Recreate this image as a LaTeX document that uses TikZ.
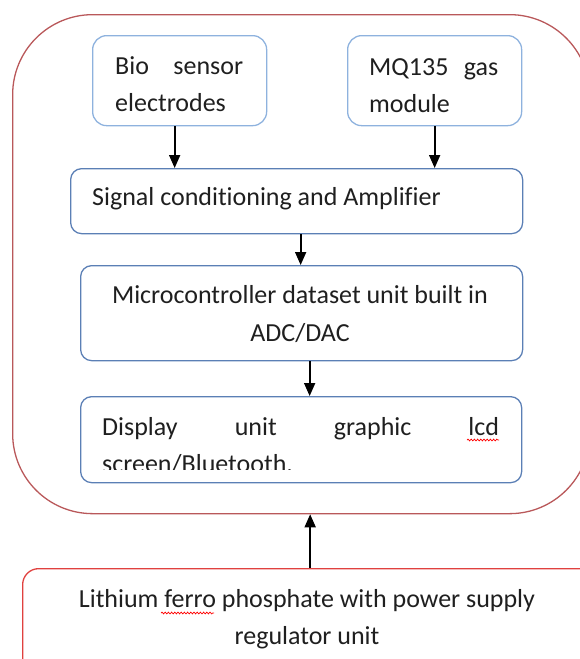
\documentclass[tikz,border=0pt]{standalone}
\usepackage{fontspec}
\setmainfont{Carlito}[Ligatures={NoCommon}]
\usetikzlibrary{arrows.meta,decorations.pathmorphing}
\definecolor{outerred}{HTML}{B9585A}
\definecolor{powred}{HTML}{E0413F}
\definecolor{lightblue}{HTML}{8EB2DE}
\definecolor{midblue}{HTML}{5B7FB5}
\begin{document}
\begin{tikzpicture}[x=1pt,y=-1pt,
  font=\fontsize{26}{37}\selectfont,
  topbox/.style={draw=lightblue, line width=1.3pt, rounded corners=14pt, minimum width=174pt, minimum height=90pt, anchor=north west, inner sep=0pt},
  box/.style={draw=midblue, line width=1.3pt, rounded corners=11pt, anchor=north west, inner sep=0pt},
  arr/.style={-{Triangle[length=13pt,width=11pt]}, line width=1.7pt, black},
  lbl/.style={inner sep=0pt, anchor=base west, text=black!88},
  clbl/.style={inner sep=0pt, anchor=base, text=black!88},
  squig/.style={draw=red, line width=0.7pt, decorate, decoration={snake, amplitude=0.9pt, segment length=3.2pt}}]
\useasboundingbox (0,0) rectangle (580,659);
\begin{scope}
\clip (0,0) rectangle (580,659);
% outer housing
\node[draw=outerred, line width=1.3pt, rounded corners=80pt, minimum width=577pt, minimum height=499pt, anchor=north west, inner sep=0pt] (outer) at (12,14) {};
% power box
\node[draw=powred, line width=1.3pt, rounded corners=16pt, minimum width=573pt, minimum height=140pt, anchor=north west, inner sep=0pt] (power) at (22,568) {};
% sensor boxes
\node[topbox] (bio) at (92,35) {};
\node[topbox] (mq) at (347,35) {};
% processing boxes
\node[box, minimum width=452pt, minimum height=65pt] (sig) at (70,168) {};
\node[box, minimum width=442pt, minimum height=95pt] (mic) at (80,265) {};
\node[box, minimum width=441pt, minimum height=86pt] (disp) at (80,396) {};
% texts
\node[lbl] (biot1) at (115,74) {\makebox[128pt][s]{Bio\hfill sensor}};
\node[lbl] (biot2) at (115,111) {electrodes};
\node[lbl] (mqt1) at (369,75) {\makebox[129pt][s]{MQ135\hfill gas}};
\node[lbl] (mqt2) at (369,112) {module};
\node[lbl] (sigt) at (92,205) {Signal conditioning and Amplifier};
\node[clbl] (mict1) at (300,303) {Microcontroller dataset unit built in};
\node[clbl] (mict2) at (300,341) {ADC/DAC};
\node[lbl] (dispt1) at (102,435) {\makebox[397pt][s]{Display\hfill unit\hfill graphic\hfill lcd}};
\begin{scope}
\clip (82,440) rectangle (519,469);
\node[lbl] (dispt2) at (102,472) {screen/Bluetooth.};
\end{scope}
\node[clbl] (powt1) at (307,607) {Lithium ferro phosphate with power supply};
\node[clbl] (powt2) at (307,644) {regulator unit};
% spell-check marks
\draw[squig] (467,440) -- (499,440);
\draw[squig] (161,613) -- (214,613);
% connectors
\draw[arr] ([xshift=-5]bio.south) -- ([xshift=-5]bio.south |- sig.north);
\draw[arr] (mq.south) -- (mq.south |- sig.north);
\draw[arr] ([xshift=4]sig.south) -- ([xshift=4]sig.south |- mic.north);
\draw[arr] ([xshift=8]mic.south) -- ([xshift=8]mic.south |- disp.north);
\draw[arr] ([xshift=1]power.north) -- ([xshift=1]power.north |- outer.south);
\end{scope}
\end{tikzpicture}
\end{document}
